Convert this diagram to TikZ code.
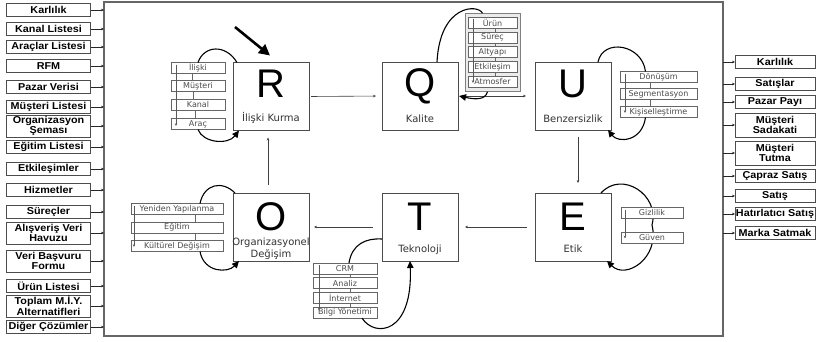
\documentclass[tikz,border=0pt]{standalone}
\usepackage{fontspec}
\setmainfont{Liberation Sans}
\newfontfamily\boxfont[FakeStretch=1.08]{Liberation Sans}
\newfontfamily\dvfont{DejaVu Sans}
\usetikzlibrary{arrows.meta,calc}
\begin{document}
\begin{tikzpicture}[x=1pt,y=-1pt,
  framebox/.style={draw=black!60, line width=1.5pt, minimum width=619pt, minimum height=334pt, inner sep=0pt, outer sep=0pt},
  sidebox/.style={draw=black!70, line width=1pt, fill=white, font=\boxfont\bfseries\fontsize{10}{10.5}\selectfont, align=center, minimum width=#1, minimum height=13.5pt, inner sep=0.5pt, outer sep=0pt},
  sidetwo/.style={sidebox=#1, minimum height=22pt},
  sidearrow/.style={-{Stealth[length=3pt,width=2.6pt]}, line width=0.6pt, black!85},
  mainbox/.style={draw=black!70, line width=0.9pt, fill=white, minimum width=76pt, minimum height=68pt, inner sep=0pt, outer sep=0pt},
  bigletter/.style={anchor=base, font=\fontsize{40}{40}\selectfont, inner sep=0pt},
  mlabel/.style={anchor=base, font=\dvfont\fontsize{10}{12}\selectfont, text=black!80, inner sep=0pt},
  listitem/.style={draw=black!60, line width=0.6pt, fill=white, font=\dvfont\fontsize{8}{9}\selectfont, text=black!70, minimum width=#1, minimum height=11pt, inner sep=0pt, outer sep=0pt},
  listtick/.style={black!60, line width=0.7pt},
  listarrow/.style={-{Stealth[length=2.8pt,width=2.4pt]}, black!65, line width=0.6pt},
  cycline/.style={line width=1.1pt, black},
  cycarrow/.style={cycline, -{Triangle[length=7pt,width=6.5pt]}},
  flowarrow/.style={-{Stealth[length=3pt,width=2.6pt]}, line width=0.6pt, black!75}
]
\fill[white] (0,0) rectangle (817,341);
\useasboundingbox (0,0) rectangle (817,341);

% frame
\node[framebox] (F) at (413.5,169) {};

% left column
\node[sidebox=84pt] (L1) at (48.5,10) {Karlılık};
\node[sidebox=84pt] (L2) at (48.5,29) {Kanal Listesi};
\node[sidebox=84pt] (L3) at (48.5,47) {Araçlar Listesi};
\node[sidebox=84pt] (L4) at (48.5,66) {RFM};
\node[sidebox=84pt] (L5) at (48.5,87) {Pazar Verisi};
\node[sidebox=84pt] (L6) at (48.5,107) {Müşteri Listesi};
\node[sidetwo=84pt] (L7) at (48.5,126) {Organizasyon\\Şeması};
\node[sidebox=84pt] (L8) at (48.5,147) {Eğitim Listesi};
\node[sidebox=84pt] (L9) at (48.5,169) {Etkileşimler};
\node[sidebox=84pt] (L10) at (48.5,190) {Hizmetler};
\node[sidebox=84pt] (L11) at (48.5,212) {Süreçler};
\node[sidetwo=84pt] (L12) at (48.5,233) {Alışveriş Veri\\Havuzu};
\node[sidetwo=84pt] (L13) at (48.5,261) {Veri Başvuru\\Formu};
\node[sidebox=84pt] (L14) at (48.5,286) {Ürün Listesi};
\node[sidetwo=84pt] (L15) at (48.5,306) {Toplam M.İ.Y.\\Alternatifleri};
\node[sidebox=84pt] (L16) at (48.5,327) {Diğer Çözümler};
\foreach \n in {L1,L2,L3,L4,L5,L6,L7,L8,L9,L10,L11,L12,L13,L14,L15,L16}
  \draw[sidearrow] (\n.east) -- (\n.east -| F.west);

% right column
\node[sidebox=80pt] (K1) at (775,62) {Karlılık};
\node[sidebox=80pt] (K2) at (775,84) {Satışlar};
\node[sidebox=80pt] (K3) at (775,102) {Pazar Payı};
\node[sidetwo=80pt, minimum height=24pt] (K4) at (775,125) {Müşteri\\Sadakati};
\node[sidetwo=80pt, minimum height=24pt] (K5) at (775,153) {Müşteri\\Tutma};
\node[sidebox=80pt] (K6) at (775,176) {Çapraz Satış};
\node[sidebox=80pt] (K7) at (775,196) {Satış};
\node[sidebox=80pt] (K8) at (775,214) {Hatırlatıcı Satış};
\node[sidebox=80pt] (K9) at (775,233) {Marka Satmak};
\foreach \n in {K1,K2,K3,K4,K5,K6,K7,K8,K9}
  \draw[sidearrow] (F.east |- \n.west) -- (\n.west);

% main boxes
\node[mainbox] (R) at (271,96.5) {};
\node[mainbox] (Q) at (420,96) {};
\node[mainbox] (U) at (573,96) {};
\node[mainbox] (O) at (271,227) {};
\node[mainbox] (T) at (420,227) {};
\node[mainbox] (E) at (573,227) {};

\node[bigletter] (Rl) at ($(R.north)+(0,35)$) {R};
\node[mlabel] (Rt) at ($(R.north)+(0,59)$) {İlişki Kurma};
\node[bigletter] (Ql) at ($(Q.north)+(0,34)$) {Q};
\node[mlabel] (Qt) at ($(Q.north)+(0,60)$) {Kalite};
\node[bigletter] (Ul) at ($(U.north)+(0,35)$) {U};
\node[mlabel] (Ut) at ($(U.north)+(0,60)$) {Benzersizlik};
\node[bigletter] (Ol) at ($(O.north)+(0,37)$) {O};
\node[mlabel] (Ot1) at ($(O.north)+(0,52)$) {Organizasyonel};
\node[mlabel] (Ot2) at ($(O.north)+(0,64)$) {Değişim};
\node[bigletter] (Tl) at ($(T.north)+(0,37)$) {T};
\node[mlabel] (Tt) at ($(T.north)+(0,59)$) {Teknoloji};
\node[bigletter] (El) at ($(E.north)+(0,37)$) {E};
\node[mlabel] (Et) at ($(E.north)+(0,59)$) {Etik};

% flow between main boxes
\draw[flowarrow, shorten <=2pt, shorten >=6pt] (R.east) -- (Q.west);
\draw[flowarrow, shorten <=2pt, shorten >=9pt] (Q.east) -- (U.west);
\draw[flowarrow, shorten <=7pt, shorten >=10pt] ([xshift=5pt]U.south) -- ([xshift=5pt]E.north);
\draw[flowarrow, shorten <=8pt, shorten >=7pt] (E.west) -- (T.east);
\draw[flowarrow, shorten <=9pt, shorten >=5pt] (T.west) -- (O.east);
\draw[flowarrow, shorten <=8pt, shorten >=7pt] ([xshift=-3pt]O.north) -- ([xshift=-3pt]R.south);

% big pointer arrow
\coordinate (bigstart) at (235,27);
\draw[line width=2.6pt, -{Triangle[length=11pt,width=11pt]}] (bigstart) -- ($(R.north west)+(37,-7)$);

% R list
\node[listitem=54pt] (r1) at (198,68) {İlişki};
\node[listitem=54pt] (r2) at (198,86) {Müşteri};
\node[listitem=54pt] (r3) at (198,105) {Kanal};
\node[listitem=54pt] (r4) at (198,124) {Araç};
\draw[listtick] ([xshift=-6pt]r1.south) -- ([xshift=-6pt]r2.north);
\draw[listtick] ([xshift=-5pt]r2.south) -- ([xshift=-5pt]r3.north);
\draw[listtick] ([xshift=-3pt]r3.south) -- ([xshift=-3pt]r4.north);
\draw[listarrow] ($(r1.north)+(-22,2)$) -- ($(r4.center)+(-22,2)$);
\draw[cycline] (r1.north) .. controls (204,45) and (226,44) .. ($(R.north west)+(4,0)$);
\draw[cycarrow] (r4.south) .. controls (203,143) and (228,145) .. ($(R.south west)+(6,0)$);

% Q list
\node[draw=black!50, fill=black!8, line width=0.6pt, minimum width=55pt, minimum height=78pt, inner sep=0pt] (qp) at (492.5,52.5) {};
\node[listitem=49pt] (q1) at (492.5,23) {Ürün};
\node[listitem=49pt] (q2) at (492.5,37.5) {Süreç};
\node[listitem=49pt] (q3) at (492.5,52) {Altyapı};
\node[listitem=49pt] (q4) at (492.5,67) {Etkileşim};
\node[listitem=49pt] (q5) at (492.5,82) {Atmosfer};
\foreach \a/\b in {q1/q2,q2/q3,q3/q4,q4/q5}
  \draw[listtick] ([xshift=2.5pt]\a.south) -- ([xshift=2.5pt]\b.north);
\draw[listarrow] ($(q1.north)+(-19.5,1)$) -- ($(q5.center)+(-19.5,1)$);
\draw[cycline] ($(qp.north)+(-10,0)$) .. controls (478,4) and (440,4) .. ($(Q.north)+(17,0)$);
\draw[cycarrow] ($(qp.south)+(-5,0)$) .. controls (485,101) and (473,99) .. ($(Q.east)+(1,0)$);

% U list
\node[listitem=77pt] (u1) at (658.5,77) {Dönüşüm};
\node[listitem=77pt] (u2) at (658.5,94) {Segmentasyon};
\node[listitem=77pt] (u3) at (658.5,112) {Kişiselleştirme};
\draw[listtick] ([xshift=-8.5pt]u1.south) -- ([xshift=-8.5pt]u2.north);
\draw[listtick] ([xshift=-8.5pt]u2.south) -- ([xshift=-8.5pt]u3.north);
\draw[listarrow] ($(u1.north)+(-33.5,2)$) -- ($(u3.center)+(-33.5,1)$);
\draw[cycline] ($(U.north)+(25,0)$) .. controls (603,38) and (642,44) .. ($(u1.north)+(-13,0)$);
\draw[cycarrow] ($(u3.south)+(-13,0)$) .. controls (642,142) and (618,143) .. ($(U.south east)+(-3,0)$);

% E list (loop passes behind the boxes)
\coordinate (emid) at (652,225);
\draw[cycarrow] ($(E.north east)+(-10,0)$) .. controls (622,170) and (660,195) .. (emid) .. controls (660,258) and (626,280) .. ($(E.south east)+(-4,0)$);
\node[listitem=62pt] (e1) at (652,213) {Gizlilik};
\node[listitem=62pt] (e2) at (652,237.5) {Güven};
\draw[listarrow] ($(e1.north)+(-27,2)$) -- ($(e2.center)+(-27,1)$);

% O list
\node[listitem=92pt] (o1) at (177,209) {Yeniden Yapılanma};
\node[listitem=92pt] (o2) at (177,227.5) {Eğitim};
\node[listitem=92pt] (o3) at (177,246) {Kültürel Değişim};
\draw[listtick] ([xshift=18pt]o1.south) -- ([xshift=18pt]o2.north);
\draw[listtick] ([xshift=18pt]o2.south) -- ([xshift=18pt]o3.north);
\draw[listarrow] ($(o1.north)+(-43,2)$) -- ($(o3.center)+(-43,1)$);
\draw[cycline] ($(o1.north)+(23,0)$) .. controls (204,184) and (222,180) .. ($(O.north west)+(2,0)$);
\draw[cycarrow] ($(o3.south)+(23,0)$) .. controls (204,273) and (228,273) .. ($(O.south west)+(6,0)$);

% T list
\node[listitem=64pt] (t1) at (345,268.5) {CRM};
\node[listitem=64pt] (t2) at (345,283.2) {Analiz};
\node[listitem=64pt] (t3) at (345,297.9) {İnternet};
\node[listitem=64pt] (t4) at (345,312.6) {Bilgi Yönetimi};
\foreach \a/\b in {t1/t2,t2/t3,t3/t4}
  \draw[listtick] ([xshift=5pt]\a.south) -- ([xshift=5pt]\b.north);
\draw[listarrow] ($(t1.north)+(-26,2)$) -- ($(t4.center)+(-26,-2)$);
\draw[cycline] ($(t1.north)+(4,0)$) .. controls (352,244) and (366,238) .. ($(T.west)+(0,12)$);
\draw[cycarrow] ($(t4.south)+(17,0)$) .. controls (375,338) and (413,334) .. ($(T.south)+(-10,0)$);
\end{tikzpicture}
\end{document}
